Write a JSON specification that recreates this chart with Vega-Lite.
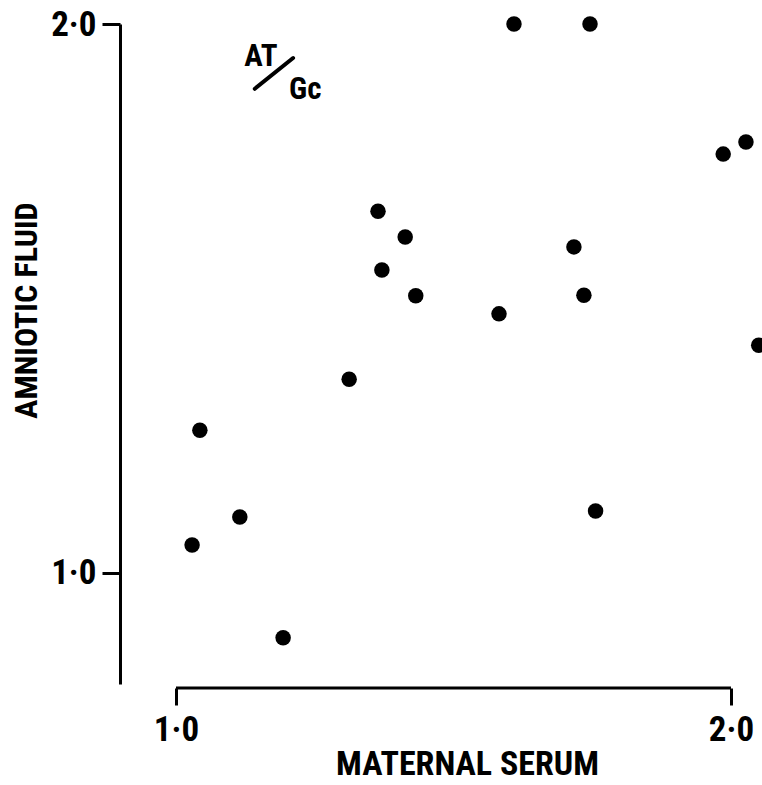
{
  "$schema": "https://vega.github.io/schema/vega-lite/v6.json",
  "width": 642,
  "height": 660,
  "autosize": {"type": "none"},
  "padding": {"left": 120, "top": 24, "right": 0, "bottom": 101},
  "background": "white",
  "config": {
    "view": {"stroke": null},
    "font": "Roboto Condensed, DejaVu Sans Condensed, Liberation Sans, sans-serif"
  },
  "datasets": {
    "points": [
      {"serum": 1.609, "fluid": 2.0},
      {"serum": 1.746, "fluid": 2.0},
      {"serum": 1.986, "fluid": 1.763},
      {"serum": 2.027, "fluid": 1.785},
      {"serum": 1.364, "fluid": 1.659},
      {"serum": 1.413, "fluid": 1.612},
      {"serum": 1.371, "fluid": 1.552},
      {"serum": 1.432, "fluid": 1.505},
      {"serum": 1.717, "fluid": 1.594},
      {"serum": 1.735, "fluid": 1.506},
      {"serum": 1.582, "fluid": 1.472},
      {"serum": 2.050, "fluid": 1.415},
      {"serum": 1.312, "fluid": 1.353},
      {"serum": 1.043, "fluid": 1.260},
      {"serum": 1.115, "fluid": 1.102},
      {"serum": 1.756, "fluid": 1.113},
      {"serum": 1.029, "fluid": 1.051},
      {"serum": 1.193, "fluid": 0.882}
    ],
    "xaxisline": [{"serum": 1.0, "serum2": 2.0, "fluid": 0.7905}],
    "slash": [{"serum": 1.142, "serum2": 1.211, "fluid": 1.882, "fluid2": 1.938}],
    "labels": [
      {"serum": 1.153, "fluid": 1.940, "text": "AT"},
      {"serum": 1.233, "fluid": 1.880, "text": "Gc"}
    ]
  },
  "layer": [
    {
      "data": {"name": "points"},
      "mark": {"type": "point", "filled": true, "shape": "circle", "size": 240, "color": "black", "opacity": 1},
      "encoding": {
        "x": {
          "field": "serum", "type": "quantitative",
          "scale": {"domain": [0.8991, 2.0559], "nice": false, "zero": false},
          "axis": {
            "orient": "bottom", "offset": 4, "domain": false, "grid": false,
            "values": [1, 2],
            "labelExpr": "datum.value == 1 ? '1·0' : '2·0'",
            "tickSize": 17, "tickWidth": 3, "tickColor": "black",
            "labelFontSize": 35, "labelFontWeight": "bold", "labelColor": "black",
            "labelPadding": 7, "labelDx": 7,
            "title": "MATERNAL SERUM",
            "titleFontSize": 34, "titleFontWeight": "bold", "titleColor": "black",
            "titleX": 347, "titleY": 76, "titleBaseline": "middle", "titleAlign": "center"
          }
        },
        "y": {
          "field": "fluid", "type": "quantitative",
          "scale": {"domain": [0.7978, 2.0], "nice": false, "zero": false},
          "axis": {
            "orient": "left", "grid": false,
            "values": [1, 2],
            "labelExpr": "datum.value == 1 ? '1·0' : '2·0'",
            "domainWidth": 3, "domainColor": "black",
            "tickSize": 18, "tickWidth": 3, "tickColor": "black",
            "labelFontSize": 35, "labelFontWeight": "bold", "labelColor": "black",
            "labelPadding": 6,
            "title": "AMNIOTIC FLUID",
            "titleFontSize": 32, "titleFontWeight": "bold", "titleColor": "black",
            "titleAngle": 270, "titleX": -94, "titleY": 286,
            "titleBaseline": "middle", "titleAlign": "center"
          }
        }
      }
    },
    {
      "data": {"name": "xaxisline"},
      "mark": {"type": "rule", "color": "black", "strokeWidth": 3, "clip": false},
      "encoding": {
        "x": {"field": "serum", "type": "quantitative"},
        "x2": {"field": "serum2"},
        "y": {"field": "fluid", "type": "quantitative"}
      }
    },
    {
      "data": {"name": "slash"},
      "mark": {"type": "rule", "color": "black", "strokeWidth": 4, "strokeCap": "round"},
      "encoding": {
        "x": {"field": "serum", "type": "quantitative"},
        "x2": {"field": "serum2"},
        "y": {"field": "fluid", "type": "quantitative"},
        "y2": {"field": "fluid2"}
      }
    },
    {
      "data": {"name": "labels"},
      "mark": {"type": "text", "fontSize": 31, "fontWeight": "bold", "color": "black", "align": "center", "baseline": "middle"},
      "encoding": {
        "x": {"field": "serum", "type": "quantitative"},
        "y": {"field": "fluid", "type": "quantitative"},
        "text": {"field": "text"}
      }
    }
  ]
}
